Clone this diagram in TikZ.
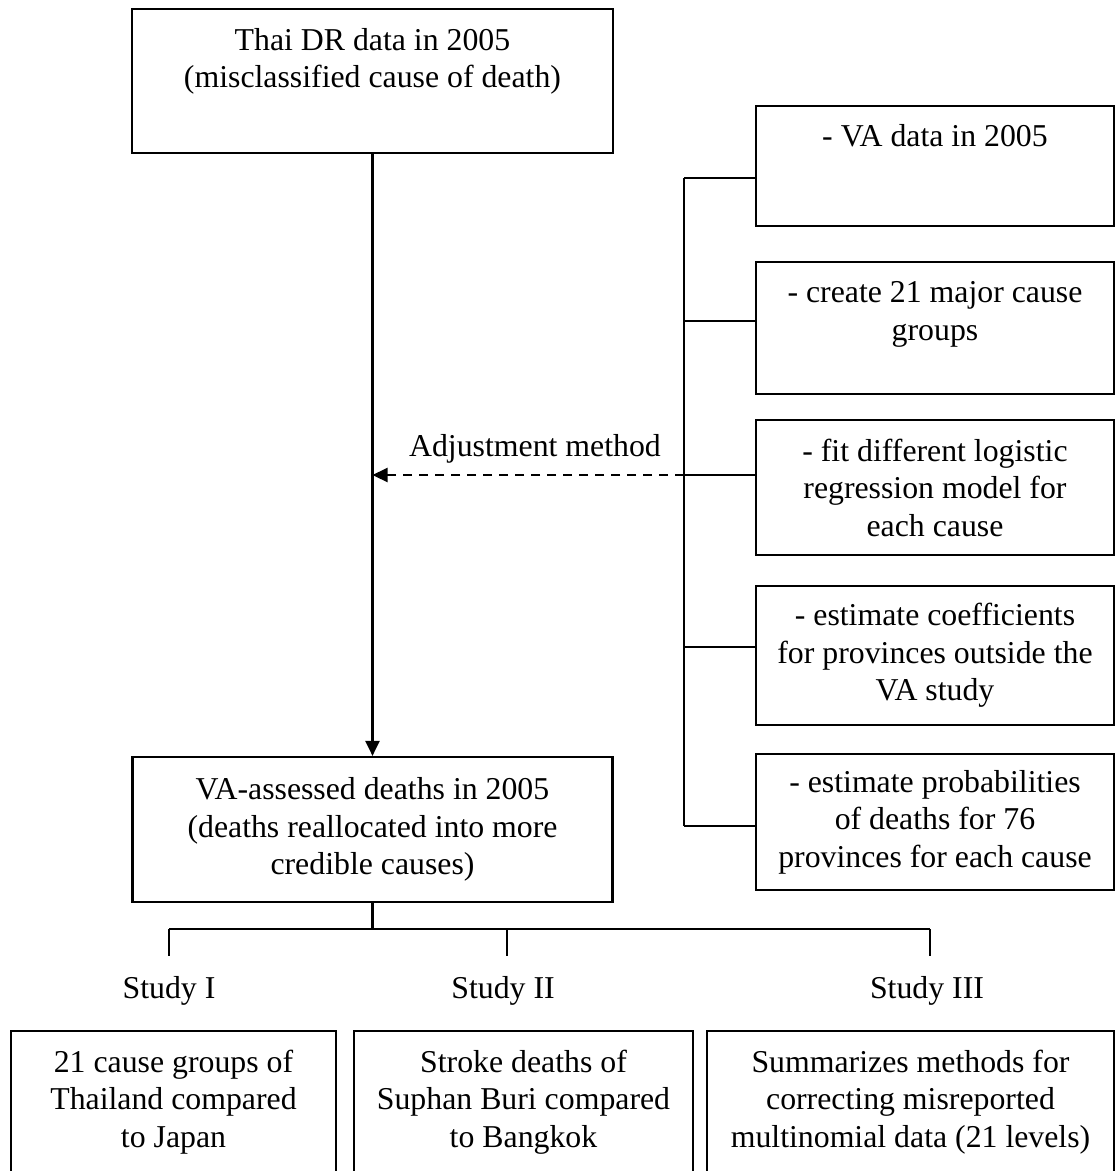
\documentclass[tikz,border=0pt]{standalone}
\usepackage{fontspec}
\setmainfont{Liberation Serif}
\usetikzlibrary{arrows.meta}

\begin{document}
\begin{tikzpicture}[x=1pt, y=-1pt, line width=2.2pt,
    font=\fontsize{31.8}{37.5}\selectfont,
    box/.style={rectangle, draw, align=center, inner sep=0pt},
    stepbox/.style={box, minimum width=358pt},
    studybox/.style={box, minimum height=142pt},
    label/.style={anchor=base, inner sep=0pt},
    tip/.style={-{Triangle[length=15pt, width=14pt]}}]
  \useasboundingbox (0,0) rectangle (1116,1171);

  \node [box, minimum width=481pt, minimum height=144pt] (thai) at (372.5,81)
    {Thai DR data in 2005\\(misclassified cause of death)\\[9pt]~};
  \node [box, minimum width=480pt, minimum height=145pt] (va) at (372.5,829.5)
    {VA-assessed deaths in 2005\\(deaths reallocated into more\\credible causes)};

  \node [stepbox, minimum height=120pt] (step1) at (935,166)
    {- VA data in 2005\\[24pt]~};
  \node [stepbox, minimum height=132pt] (step2) at (935,328)
    {- create 21 major cause\\groups\\[-3.5pt]~};
  \node [stepbox, minimum height=135pt] (step3) at (935,487.5)
    {- fit different logistic\\regression model for\\each cause};
  \node [stepbox, minimum height=139pt] (step4) at (935,655.5)
    {- estimate coefficients\\for provinces outside the\\VA study};
  \node [stepbox, minimum height=136pt] (step5) at (935,822)
    {- estimate probabilities\\of deaths for 76\\provinces for each cause};

  \coordinate (k1) at (684,178);
  \coordinate (k2) at (684,321);
  \coordinate (k3) at (684,475);
  \coordinate (k4) at (684,647);
  \coordinate (k5) at (684,826);
  \draw (k1) -- (k5);
  \foreach \i in {1,...,5}
    \draw (k\i) -- (k\i -| step\i.west);

  \draw [tip] (thai.south) -- (va.north);
  \node [label] (adj) at (535,456) {Adjustment method};
  \draw [tip, dash pattern=on 9pt off 7pt] (k3) -- (k3 -| thai.south);

  \node [label] (study1) at (169,998) {Study I};
  \node [label] (study2) at (503,998) {Study II};
  \node [label] (study3) at (927,998) {Study III};

  \coordinate (t1) at (169,929);
  \coordinate (t2) at (507,929);
  \coordinate (t3) at (930,929);
  \draw (va.south) -- (va.south |- t1);
  \draw (t1) -- (t3);
  \foreach \i in {1,2,3}
    \draw [shorten >=19pt] (t\i) -- (t\i |- study\i.north);

  \node [studybox, minimum width=325pt] (res1) at (173.5,1102)
    {21 cause groups of\\Thailand compared\\to Japan};
  \node [studybox, minimum width=339pt] (res2) at (523.5,1102)
    {Stroke deaths of\\Suphan Buri compared\\to Bangkok};
  \node [studybox, minimum width=407pt] (res3) at (910.5,1102)
    {Summarizes methods for\\correcting misreported\\multinomial data (21 levels)};
\end{tikzpicture}
\end{document}
